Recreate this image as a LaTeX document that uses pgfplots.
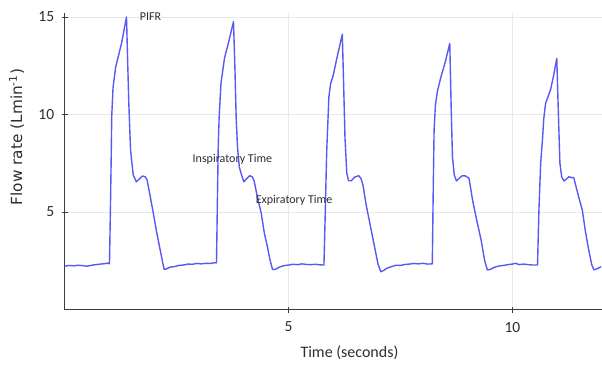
\documentclass[border=0pt]{standalone}
\usepackage{fontspec}
\setmainfont{Carlito}
\newfontfamily\ylabfont{DejaVu Sans}
\usepackage{pgfplots}
\pgfplotsset{compat=1.18}
\definecolor{flow}{RGB}{88,88,245}
\definecolor{axgray}{RGB}{60,60,60}
\definecolor{gridgray}{RGB}{232,232,232}
\definecolor{txtgray}{RGB}{45,45,45}
\begin{document}
\begin{tikzpicture}
\path[use as bounding box] (-64.7bp,-65.5bp) rectangle (537.3bp,309.5bp);
\begin{axis}[
  scale only axis,
  width=537.3bp, height=296.4bp,
  xmin=0, xmax=12, ymin=0, ymax=15.2,
  axis lines=left,
  axis line style={-, draw=axgray, line width=1.3pt},
  xtick={5,10}, ytick={5,10,15},
  tick align=center,
  major tick length=6bp,
  tick style={draw=axgray, line width=0.8pt},
  grid=major,
  grid style={draw=gridgray, line width=0.6pt},
  /pgf/number format/assume math mode=true,
  ticklabel style={font=\fontsize{15.5bp}{18bp}\selectfont, text=txtgray},
  xticklabel style={yshift=-6bp},
  yticklabel style={xshift=-4bp},
  xlabel={Time (seconds)},
  xlabel style={font=\fontsize{16bp}{19bp}\selectfont, text=txtgray, at={(axis description cs:0.53,0)}, anchor=north, yshift=-33bp},
  ylabel={\ylabfont Flow rate (Lmin\textsuperscript{-1})},
  ylabel style={font=\fontsize{15.3bp}{18bp}\selectfont, text=txtgray, at={(axis description cs:0,0.582)}, anchor=south, yshift=37bp},
  clip=false,
]
\addplot[color=flow, line width=1.4pt, line join=round] coordinates {
(0,2.22) (0.1,2.26) (0.2,2.24) (0.3,2.27) (0.4,2.25) (0.5,2.22) (0.6,2.27) (0.7,2.3) (0.8,2.33) (0.9,2.35) (0.97,2.38) (1.0,2.34)
(1.02,5) (1.04,8) (1.05,9.9) (1.08,11.4) (1.14,12.45) (1.27,13.65) (1.38,15.0)
(1.43,10.7) (1.47,8.2) (1.53,6.9) (1.60,6.55) (1.67,6.7) (1.74,6.85) (1.80,6.8) (1.84,6.64) (1.91,5.8) (1.98,4.93) (2.05,4.0) (2.12,3.2) (2.18,2.5) (2.22,2.06) (2.27,2.08)
(2.35,2.17) (2.45,2.2) (2.55,2.26) (2.65,2.28) (2.75,2.33) (2.85,2.32) (2.95,2.36) (3.05,2.34) (3.15,2.37) (3.25,2.36) (3.35,2.4) (3.39,2.39)
(3.41,5.5) (3.43,8.5) (3.45,9.9) (3.49,11.6) (3.57,12.9) (3.66,13.7) (3.77,14.76)
(3.80,12.5) (3.83,9.8) (3.86,8.3) (3.90,7.3) (3.95,6.9) (4.00,6.55) (4.06,6.7) (4.13,6.86) (4.19,6.8) (4.23,6.6) (4.30,5.8) (4.39,4.93) (4.46,3.9) (4.52,3.3) (4.58,2.6) (4.64,2.06) (4.70,2.05)
(4.80,2.18) (4.90,2.25) (5.0,2.28) (5.1,2.32) (5.2,2.3) (5.3,2.34) (5.4,2.31) (5.5,2.3) (5.6,2.32) (5.7,2.29) (5.79,2.28)
(5.82,5) (5.85,8) (5.90,10.9) (5.94,11.6) (5.99,11.94) (6.08,12.9) (6.20,14.11)
(6.23,11.5) (6.26,8.8) (6.30,7.0) (6.34,6.6) (6.40,6.6) (6.48,6.8) (6.57,6.86) (6.62,6.7) (6.66,6.4) (6.73,5.4) (6.80,4.59) (6.92,3.22) (7.00,2.3) (7.06,1.94) (7.12,2.0)
(7.2,2.12) (7.3,2.2) (7.4,2.27) (7.5,2.26) (7.6,2.31) (7.7,2.33) (7.8,2.36) (7.9,2.34) (8.0,2.37) (8.1,2.33) (8.21,2.34)
(8.23,6) (8.25,9.2) (8.28,10.5) (8.33,11.26) (8.40,11.9) (8.50,12.7) (8.60,13.65)
(8.63,10.5) (8.66,7.84) (8.70,6.9) (8.75,6.59) (8.82,6.75) (8.88,6.86) (8.95,6.85) (9.03,6.73) (9.11,5.6) (9.20,4.6) (9.30,3.56) (9.38,2.5) (9.44,2.03) (9.50,2.05)
(9.6,2.17) (9.7,2.23) (9.8,2.26) (9.9,2.3) (10.0,2.33) (10.07,2.37) (10.15,2.3) (10.25,2.33) (10.35,2.3) (10.45,2.28) (10.56,2.28)
(10.59,5) (10.63,7.5) (10.67,8.7) (10.70,9.8) (10.74,10.57) (10.85,11.26) (10.92,12.0) (10.99,12.88)
(11.02,10.5) (11.06,7.5) (11.10,6.8) (11.15,6.59) (11.21,6.7) (11.26,6.81) (11.32,6.76) (11.37,6.76) (11.42,6.3) (11.50,5.6) (11.56,5.1) (11.63,4.0) (11.70,3.1) (11.77,2.3) (11.82,2.03) (11.90,2.1) (11.98,2.2)
};
\node[anchor=west, font=\fontsize{12bp}{14bp}\selectfont, text=txtgray] at (axis cs:1.60,15.0) {PIFR};
\node[anchor=west, font=\fontsize{12bp}{14bp}\selectfont, text=txtgray] at (axis cs:2.78,7.72) {Inspiratory Time};
\node[anchor=west, font=\fontsize{12bp}{14bp}\selectfont, text=txtgray] at (axis cs:4.19,5.62) {Expiratory Time};
\end{axis}
\end{tikzpicture}
\end{document}
